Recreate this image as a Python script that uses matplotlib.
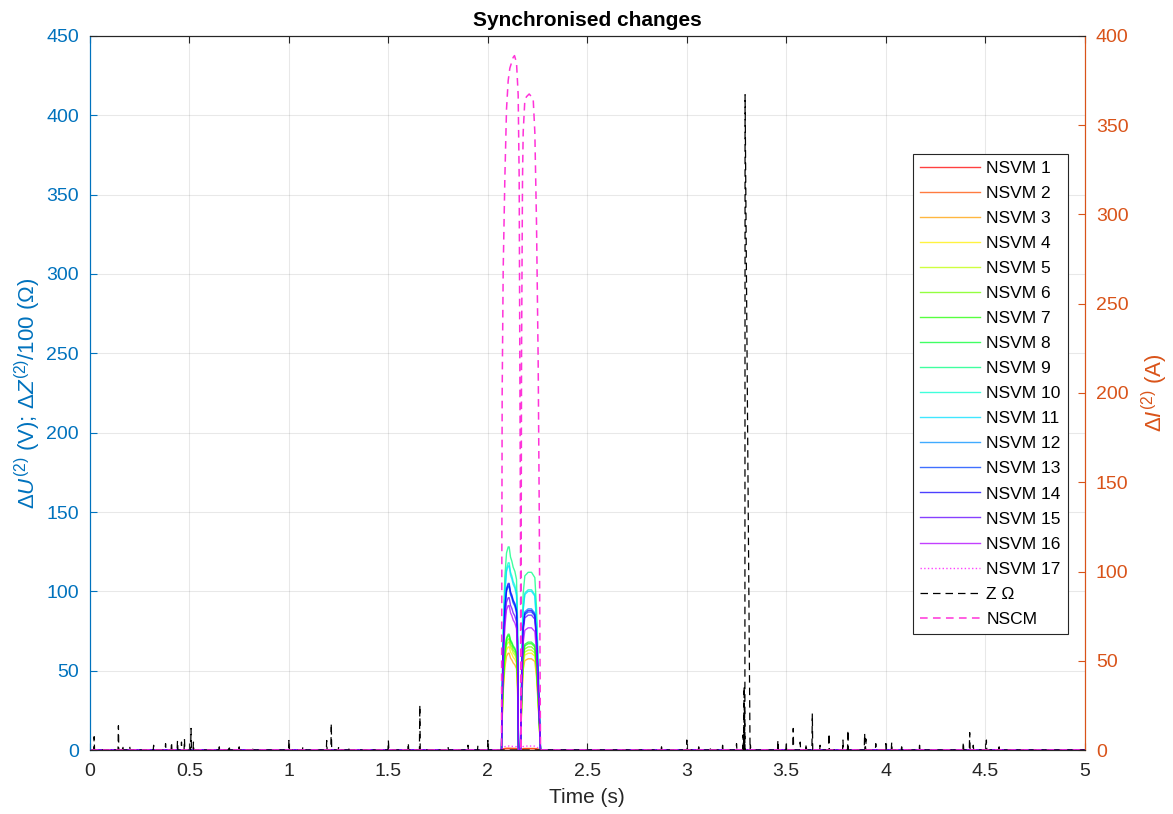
import numpy as np
import matplotlib
matplotlib.use("Agg")
from matplotlib import pyplot as plt
from matplotlib.colors import hsv_to_rgb

plt.rcParams['font.family'] = ['Liberation Sans', 'DejaVu Sans']
plt.rcParams['mathtext.fontset'] = 'custom'
plt.rcParams['mathtext.rm'] = 'Liberation Sans'
plt.rcParams['mathtext.it'] = 'Liberation Sans:italic'

blue = (0, 0.447, 0.741)
orange = (0.85, 0.325, 0.098)
dark = (0.15, 0.15, 0.15)

# shape of the two NSVM humps (fraction of the hump level)
hump1_t = [2.0687, 2.0720, 2.0771, 2.0854, 2.0938, 2.1022, 2.1072, 2.1139,
           2.1206, 2.1273, 2.1357, 2.1441, 2.1491, 2.1541]
hump1_f = [0, 0.30, 0.60, 0.85, 0.97, 1.0, 1.0, 0.95, 0.93, 0.90, 0.88, 0.84, 0.65, 0]
hump2_t = [2.1642, 2.1709, 2.1776, 2.1859, 2.2027, 2.2194, 2.2362, 2.2446, 2.2529, 2.2647]
hump2_f = [0, 0.55, 0.88, 0.98, 1.0, 1.0, 0.97, 0.80, 0.50, 0]

# hump levels (V) for NSVM 1..17
nsvm_peak1 = [0.8, 1.2, 61, 65, 68, 70, 72, 73, 128, 118, 116, 104, 103, 105, 96, 91, 2.5]
nsvm_peak2 = [0.8, 1.0, 57.5, 61, 63, 65, 67, 68, 112, 101, 100, 89, 87, 88, 85, 77, 2.5]

# NSCM (A), right axis
nscm_t = [0, 2.0687, 2.0705, 2.0720, 2.0771, 2.0854, 2.0938, 2.1022, 2.1106, 2.1273,
          2.1340, 2.1441, 2.1524, 2.1575, 2.1608, 2.1642, 2.1658,
          2.1692, 2.1742, 2.1776, 2.1859, 2.1943, 2.2077, 2.2194, 2.2278,
          2.2362, 2.2446, 2.2529, 2.2579, 2.2647, 5]
nscm_v = [0, 0, 120, 200, 269, 320, 359, 375, 382, 388,
          389, 385, 367, 320, 218, 115, 0,
          218, 320, 346, 364, 366, 367.5, 366, 365,
          346, 295, 218, 141, 0, 0]

# Z / 100 (Ohm) spikes, left axis
z_spike_t = [0.021, 0.143, 0.165, 0.20, 0.32, 0.38, 0.41, 0.44, 0.46, 0.475, 0.508, 0.52,
             0.65, 0.70, 0.75, 0.82, 1.0, 1.07, 1.19, 1.213, 1.25, 1.3, 1.5, 1.6, 1.658,
             1.8, 1.9, 1.95, 2.0, 2.873, 3.0, 3.06, 3.12, 3.18, 3.25, 3.283, 3.288, 3.290,
             3.293, 3.32, 3.458, 3.50, 3.535, 3.57, 3.60, 3.631, 3.67, 3.715, 3.785, 3.81,
             3.894, 3.90, 3.95, 4.0, 4.03, 4.08, 4.17, 4.39, 4.422, 4.44, 4.506, 4.57]
z_spike_h = [8.4, 15.3, 3, 2, 3, 4, 5, 6, 5, 7, 13.6, 5,
             2, 3, 2, 2, 6, 2, 6, 16.8, 2, 2, 6, 4.6, 28.4,
             2, 3, 3, 6, 2, 6.3, 2, 2, 3, 4, 9.5, 40, 25,
             413, 3, 6.3, 4, 13.6, 5, 4, 23, 3, 10.5, 6.3, 12.6,
             10.5, 7, 4, 4, 5, 2, 3, 5, 11, 3, 6.3, 2]

fig = plt.figure(figsize=(11.73, 8.14), dpi=100)
ax = fig.add_axes([0.0767, 0.0786, 0.848, 0.8772])
ax2 = ax.twinx()

handles = []
n = len(nsvm_peak1)
for i in range(n):
    col = hsv_to_rgb((i / (n - 1) * 300 / 360, 1, 1))
    t = [0] + hump1_t + hump2_t + [5]
    v = [0] + [f * nsvm_peak1[i] for f in hump1_f] + [f * nsvm_peak2[i] for f in hump2_f] + [0]
    ls = ':' if i == n - 1 else '-'
    h, = ax.plot(t, v, color=col, lw=1.0, ls=ls, alpha=0.75, label="NSVM %d" % (i + 1))
    handles.append(h)

# Z line: zeros between spikes
zt, zv = [0], [0]
for t, hh in zip(z_spike_t, z_spike_h):
    if hh > 100:
        zt += [t]
        zv += [hh]
    else:
        zt += [t - 0.002, t, t + 0.002]
        zv += [0, hh, 0]
zt += [5]
zv += [0]
h, = ax.plot(zt, zv, color='black', lw=0.9, ls=(0, (6, 4)), label="Z \u03a9")
handles.append(h)

h, = ax2.plot(nscm_t, nscm_v, color=(1, 0.2, 0.85), lw=1.1, ls=(0, (5, 3.5)), label="NSCM")
handles.append(h)

ax.set_xlim(0, 5)
ax.set_ylim(0, 450)
ax2.set_ylim(0, 400)
ax.set_xticks(np.arange(0, 5.01, 0.5))
ax.set_xticklabels(["0", "0.5", "1", "1.5", "2", "2.5", "3", "3.5", "4", "4.5", "5"])
ax.set_yticks(np.arange(0, 451, 50))
ax2.set_yticks(np.arange(0, 401, 50))
ax.grid(True, color=(0.15, 0.15, 0.15), alpha=0.1, lw=0.8)

ax.tick_params(axis='x', direction='in', colors=dark, labelsize=14, length=5, top=True, pad=9)
ax.tick_params(axis='y', direction='in', colors=blue, labelsize=14, length=5, pad=8)
ax2.tick_params(axis='y', direction='in', colors=orange, labelsize=14, length=5, pad=8)

for a in (ax, ax2):
    a.spines['top'].set_color(dark)
    a.spines['bottom'].set_color(dark)
    a.spines['left'].set_color(blue)
    a.spines['right'].set_color(orange)
    for s in a.spines.values():
        s.set_linewidth(0.8)

ax.set_xlabel("Time (s)", fontsize=15, color=dark, labelpad=6)
ax.set_ylabel("$\\Delta U^{(2)}$ (V); $\\Delta Z^{(2)}$/100 ($\\Omega$)", fontsize=16, color=blue, labelpad=2)
ax2.set_ylabel("$\\Delta I^{(2)}$ (A)", fontsize=16, color=orange, labelpad=8)
ax.set_title("Synchronised changes", fontsize=15, fontweight='bold', pad=7)

leg = ax2.legend(handles=handles, loc='upper right', bbox_to_anchor=(0.983, 0.835),
                 fontsize=12.5, handlelength=3.45, handletextpad=0.35, labelspacing=0.57,
                 fancybox=False, framealpha=1, edgecolor=dark, borderpad=0.4,
                 borderaxespad=0)
leg.get_frame().set_linewidth(0.8)

fig.savefig("out.png", dpi=100)
